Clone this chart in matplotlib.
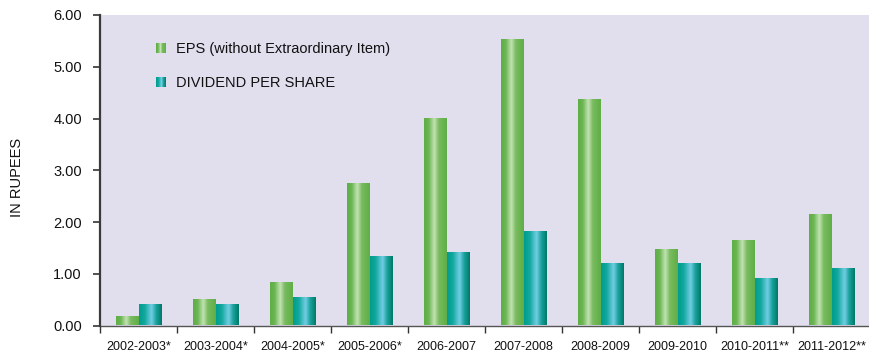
import numpy as np
import matplotlib
matplotlib.use("Agg")
import matplotlib.pyplot as plt
from matplotlib.colors import LinearSegmentedColormap
from matplotlib.patches import Rectangle
from matplotlib.legend_handler import HandlerBase

plt.rcParams['font.family'] = ['Liberation Sans', 'DejaVu Sans']

years = ["2002-2003*", "2003-2004*", "2004-2005*", "2005-2006*", "2006-2007",
         "2007-2008", "2008-2009", "2009-2010", "2010-2011**", "2011-2012**"]
eps = [0.16, 0.49, 0.82, 2.73, 4.00, 5.52, 4.35, 1.46, 1.63, 2.13]
dps = [0.40, 0.40, 0.53, 1.32, 1.40, 1.80, 1.19, 1.19, 0.89, 1.09]
yticks = [0, 1, 2, 3, 4, 5, 6]
series_labels = ["EPS (without Extraordinary Item)", "DIVIDEND PER SHARE"]

green_cmap = LinearSegmentedColormap.from_list(
    "green_bar", [(0.0, "#5fae46"), (0.2, "#6ab552"), (0.45, "#c2e2b2"),
                  (0.65, "#78bb5f"), (1.0, "#5fae46")])
teal_cmap = LinearSegmentedColormap.from_list(
    "teal_bar", [(0.0, "#009c8e"), (0.25, "#12a89e"), (0.55, "#72cde4"),
                 (0.75, "#1aa39c"), (1.0, "#007868")])

fig = plt.figure(figsize=(8.7, 3.55), dpi=100)
ax = fig.add_axes([100 / 870, 29.5 / 355, 770 / 870, 310.5 / 355])
ax.set_facecolor("#e1deee")

n = len(years)
x = np.arange(n) + 0.5
w = 0.29
grad = np.linspace(0, 1, 256).reshape(1, -1)


def gradient_bars(xpos, heights, cmap):
    bars = ax.bar(xpos, heights, width=w, align="center", color="none",
                  edgecolor="none", zorder=2)
    for b in bars:
        x0, y0 = b.get_x(), b.get_y()
        ax.imshow(grad, cmap=cmap, aspect="auto", interpolation="bilinear",
                  extent=[x0, x0 + b.get_width(), y0, y0 + b.get_height()],
                  zorder=2)


gradient_bars(x - w / 2, eps, green_cmap)
gradient_bars(x + w / 2, dps, teal_cmap)

ax.set_xlim(0, n)
ax.set_ylim(0, 6)

ax.set_xticks(np.arange(n + 1))
ax.set_xticklabels([])
ax.set_xticks(x, minor=True)
ax.set_xticklabels(years, minor=True, fontsize=9)
ax.tick_params(axis="x", which="major", length=5, width=1, color="#333333",
               direction="out")
ax.tick_params(axis="x", which="minor", length=0, pad=11, labelcolor="#111111")

ax.set_yticks(yticks)
ax.set_yticklabels([f"{v:.2f}" for v in yticks], fontsize=10.5,
                   color="#111111")
ax.tick_params(axis="y", length=5, width=1.2, color="#333333", pad=8)

for s in ("top", "right"):
    ax.spines[s].set_visible(False)
ax.spines["left"].set_color("#3a3a3a")
ax.spines["left"].set_linewidth(1.6)
ax.spines["bottom"].set_color("#555555")
ax.spines["bottom"].set_linewidth(1.0)
ax.spines["left"].set_zorder(3)

fig.text(17 / 870, 0.5, "IN RUPEES", rotation=90, ha="center", va="center",
         fontsize=10.5, color="#111111")


class GradientHandler(HandlerBase):
    def __init__(self, cmap):
        super().__init__()
        self.cmap = cmap

    def create_artists(self, legend, orig_handle, xdescent, ydescent, width,
                       height, fontsize, trans):
        steps = 10
        side = height * 1.0
        x0 = width - side
        arts = []
        for i in range(steps):
            r = Rectangle((x0 + side * i / steps - xdescent, -ydescent),
                          side / steps + 0.05, side,
                          facecolor=self.cmap((i + 0.5) / steps),
                          edgecolor="none", transform=trans)
            arts.append(r)
        return arts


h1 = Rectangle((0, 0), 1, 1)
h2 = Rectangle((0, 0), 1, 1)
ax.legend([h1, h2], series_labels,
          handler_map={h1: GradientHandler(green_cmap),
                       h2: GradientHandler(teal_cmap)},
          loc="upper left", bbox_to_anchor=(0.052, 0.955), frameon=False,
          fontsize=10.5, labelspacing=1.35, handlelength=0.9,
          handletextpad=0.7, labelcolor="#111111")

fig.savefig("out.png", dpi=100, facecolor="white")
